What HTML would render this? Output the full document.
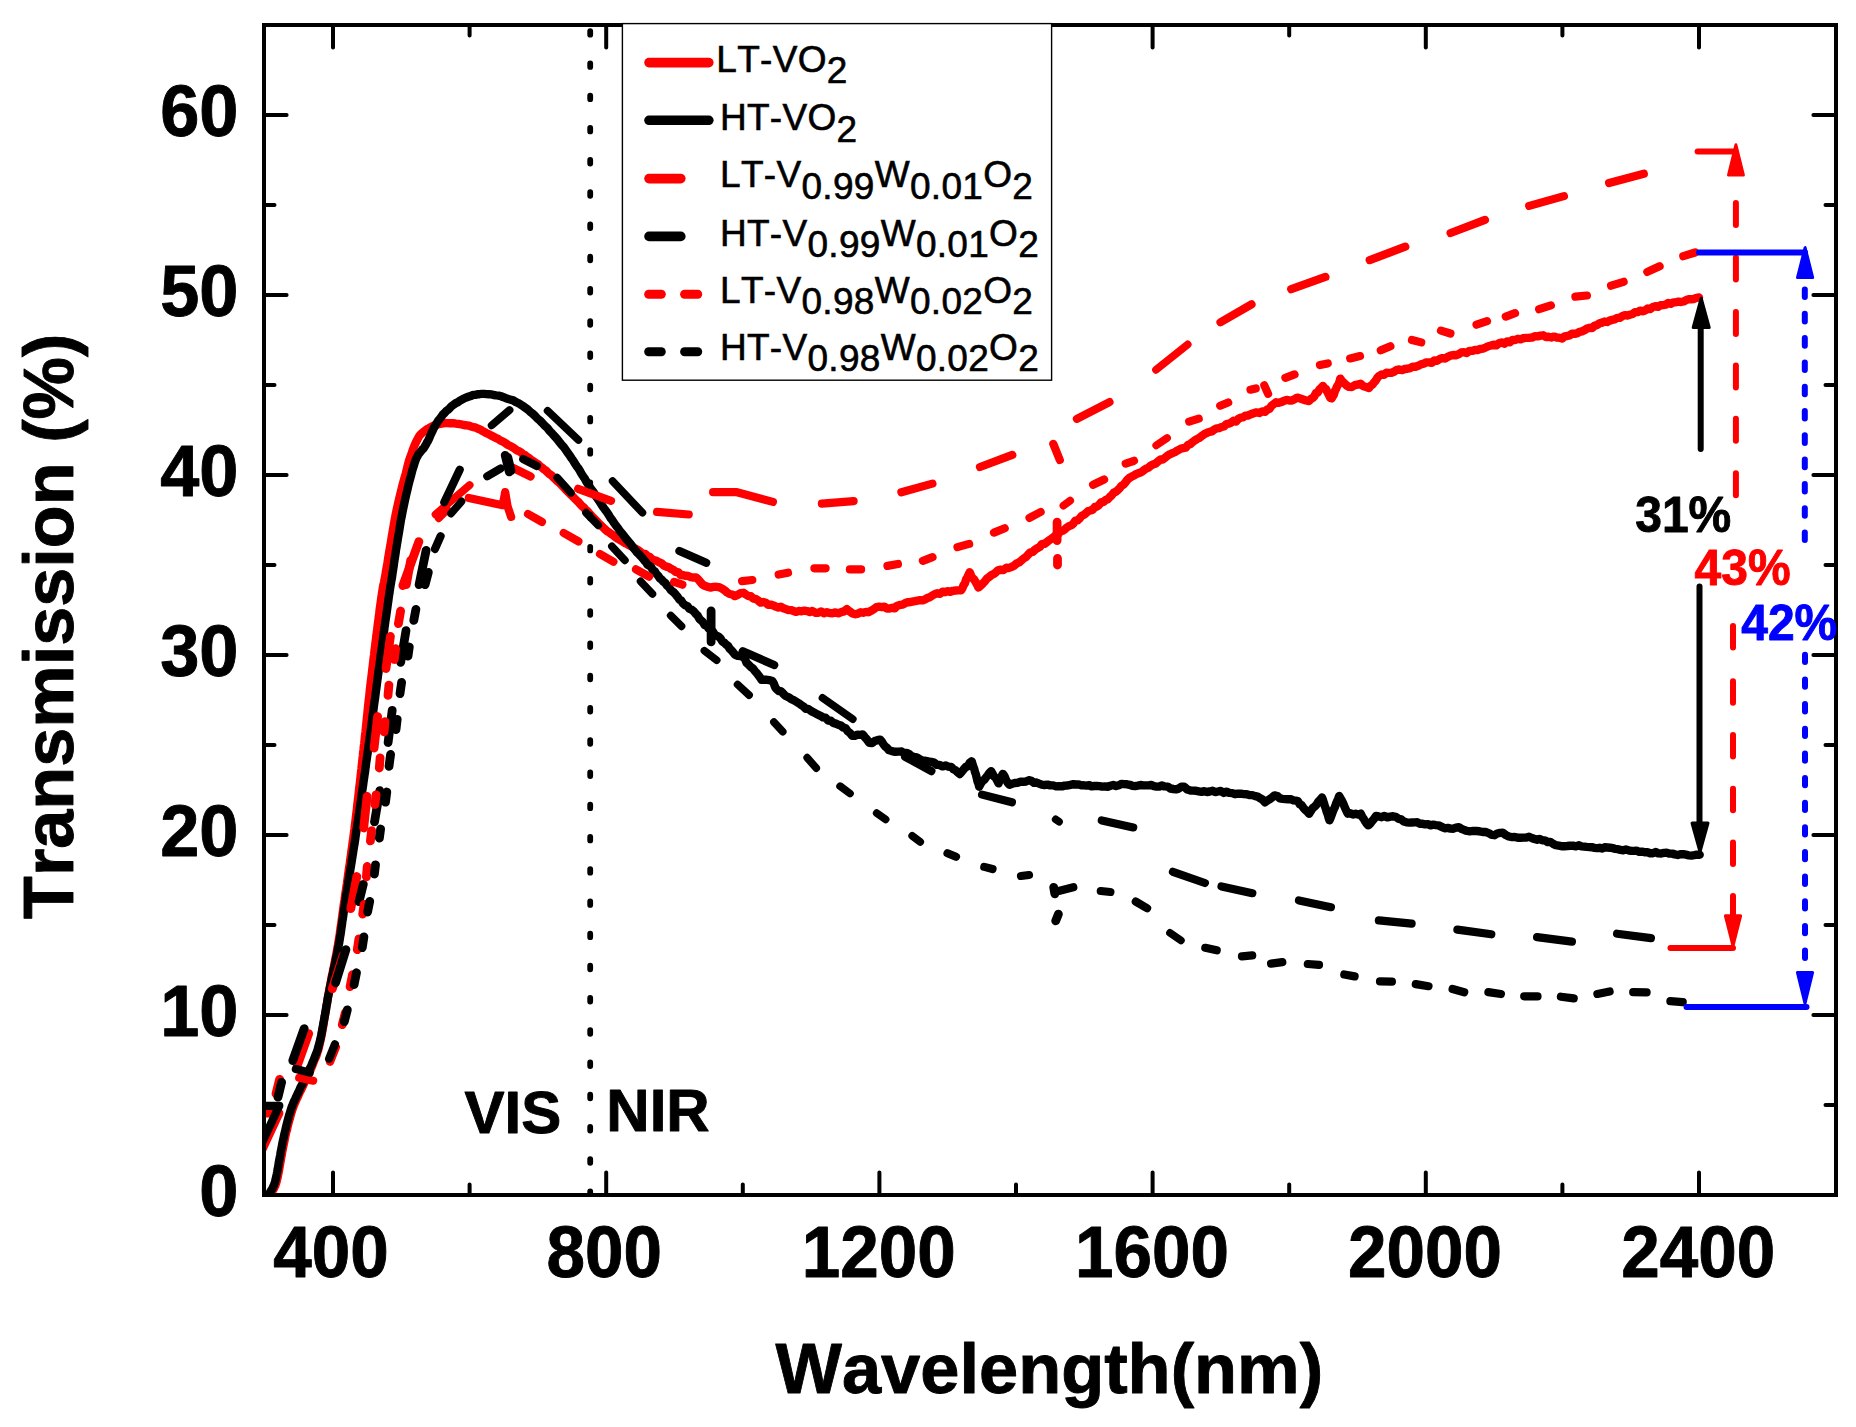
<!DOCTYPE html>
<html lang="en"><head><meta charset="utf-8"><title>Transmission spectra of VO2 and W-doped VO2</title>
<style>html,body{margin:0;padding:0;background:#fff}svg{display:block}text{font-family:"Liberation Sans",Arial,Helvetica,sans-serif;font-kerning:none}.b{font-weight:bold;stroke-width:0.9px;stroke-linejoin:round}</style></head><body>
<svg width="1856" height="1427" viewBox="0 0 1856 1427">
<rect width="1856" height="1427" fill="#fff"/>
<defs><clipPath id="plot"><rect x="264" y="25" width="1572" height="1172"/></clipPath></defs>
<g clip-path="url(#plot)">
<polyline points="267.5,1197.8 267.8,1197.7 268.1,1197.1 268.5,1196.6 269,1196 269.5,1195 270,1194.2 270.5,1194 271,1192.9 271.5,1192.1 272,1191.8 272.5,1190.7 273.1,1190.1 273.6,1189 274.1,1188.2 274.6,1186.9 275.1,1186.1 275.5,1185.1 275.9,1183.7 276.3,1182.6 276.7,1181.3 277,1179.5 277.4,1178.4 277.8,1176.5 278.2,1174.4 278.7,1171.9 279.1,1169.9 279.6,1166.9 280.1,1164.1 280.6,1161.2 281.1,1158.1 281.7,1155.2 282.2,1152 282.7,1149.5 283.3,1146.5 283.8,1144 284.4,1141.1 285,1137.9 285.6,1135.1 286.2,1132.3 286.9,1130 287.6,1126.8 288.3,1124 289.1,1120.9 289.9,1118.2 290.7,1115.2 291.5,1112.4 292.3,1109.9 293.2,1107.4 294,1105.2 294.9,1103.1 295.7,1101.3 296.5,1099.4 297.4,1097.6 298.4,1095.4 299.5,1092.8 300.7,1090.6 302.1,1087.7 303.7,1084.3 305.4,1080.5 307.2,1076.9 309,1072.8 310.7,1069.5 312.2,1065.8 313.6,1062.3 314.7,1059.3 315.7,1057.3 316.6,1055.1 317.4,1052.3 318.1,1050.4 318.9,1047.4 319.7,1043.9 320.6,1039.9 321.6,1035.2 322.1,1032.4 322.7,1029 323.2,1026.2 323.7,1022.7 324.3,1019.7 324.8,1016.2 325.4,1013.1 326,1009.7 326.5,1006 327.1,1002.8 327.6,999.1 328.2,995.7 328.8,992.9 329.3,989.4 329.9,986.6 330.4,983.8 331,981 331.5,977.9 332.1,975 332.7,972.7 333.2,969.6 333.8,967.2 334.3,964.4 334.9,961.3 335.4,958.6 336,955.9 336.5,953.2 337,950.4 337.5,947.6 338,944.9 338.4,942.4 338.9,939.4 339.3,936.8 339.7,934.4 340.4,929 341.2,923.9 341.5,921.7 341.9,918.8 342.3,915.9 342.7,912.8 343.1,909.9 343.5,906.9 344,903.2 344.5,900.1 345,896.3 345.6,892.1 346,889.7 346.4,886.9 346.8,884.3 347.2,881.2 347.6,878.5 348,875.6 348.5,872.1 348.9,869.1 349.3,866.5 349.8,863.5 350.2,860 350.7,857 351.1,853.9 351.5,850.6 352,847.4 352.4,844.2 352.8,841.1 353.3,838 353.7,834.7 354.1,831.6 354.5,828.7 354.9,825 355.3,822.2 355.7,819.1 356.1,815.6 356.5,812.3 356.9,809.4 357.2,805.7 357.6,802.4 358,799.2 358.4,796 358.8,792.4 359.1,789.1 359.5,785.8 359.9,782.8 360.3,779.2 360.6,776.1 361,772.4 361.4,769.2 361.7,766.1 362.1,763 362.4,759.5 362.8,756.2 363.1,752.9 363.5,750 363.8,746.7 364.2,744 364.5,741 364.8,737.6 365.1,734.7 365.5,732 365.8,728.9 366.1,726.1 366.4,722.9 366.7,719.8 367,717 367.3,714.4 367.6,711.2 367.9,708.3 368.2,705.5 368.5,702.5 368.8,699.6 369.2,697 369.5,693.5 369.8,690.4 370.1,688 370.5,684.9 370.8,681.9 371.2,678.5 371.6,675.5 372,672.2 372.4,668.5 372.7,666.2 373,663.6 373.3,660.9 373.6,658.1 374,655.3 374.3,652.6 374.6,649.8 375,647 375.3,644.6 375.6,641.7 376,639.3 376.3,636.1 376.6,634 377,631.2 377.3,628.7 377.6,626.1 378,622.8 378.5,619.4 378.9,615.8 379.3,613.3 379.6,610 380,607.2 380.5,603.8 381,600 381.4,597.1 381.8,594.6 382.5,590.2 383,586.8 383.5,584.3 384,582.5 384.4,580.2 384.9,577.9 385.5,574.4 386.1,570.5 386.8,566.7 387.5,562.7 388.2,558 388.9,554 389.6,549.7 390.4,545.3 391.1,541.1 391.8,536.4 392.5,532.6 393.2,528.5 394,523.8 394.7,519.8 395.5,515.6 396.3,511.5 397.2,507.3 398.2,503 399.2,498.7 400.4,493.7 401.5,489.2 402.6,484.9 403.7,480.7 404.8,476.8 405.7,473.9 406.5,470.8 407.2,467.6 407.8,465.5 408.3,463.3 408.9,461.2 409.5,459.2 410.2,457.3 411,455.1 411.9,452.5 412.8,449.9 413.8,447.4 414.8,444.7 415.8,442.5 417,440.2 418.2,437.9 419.5,435.7 420.9,434.1 422.4,432.7 423.9,431.5 425.5,430.3 427.2,429 428.9,428.2 430.7,427.2 432.4,426.3 434.1,425.5 435.8,424.9 437.5,424.5 439.3,423.8 441.1,423.7 443.1,423.3 445.2,423 447.5,423.1 450.1,423.3 453,423.1 456,423.6 459.2,424 462.4,424.7 465.5,425.3 468.5,425.6 471.2,426.5 473.6,427.2 475.9,427.7 478,428.7 480.1,429.4 482.1,430.8 484.1,431.8 486.2,433 488.4,434.1 490.7,435.2 493.1,436.5 495.6,437.8 498.1,438.9 500.6,440.6 503,441.6 505.5,443.1 507.8,444.9 510.1,445.8 512.3,447.1 514.5,448.5 516.7,450.3 518.9,451.2 521,452.4 523.1,454.3 525.1,455.2 527.1,456.9 529,458.1 530.9,459.6 532.8,460.9 534.6,462 536.5,463.5 538.3,464.5 540.2,466.4 542.1,467.7 543.9,469.3 545.8,470.5 547.6,472.4 549.5,474.1 551.4,475.3 553.3,477.2 555.3,479.1 557.4,481.3 559.6,483.1 561.8,485.3 564,487.6 566.3,490.1 568.5,492.4 570.5,494.4 572.5,496.3 574.3,498.1 575.8,499.6 577.3,501.1 578.7,502.3 580.1,504 581.7,505.9 583.4,507.2 585.4,509.4 587.7,511.4 590.2,514.4 593,517.3 595.8,520.2 598.7,523.1 601.6,525.9 604.3,528.6 607,531.1 609.7,532.8 612.5,534.8 615.3,537.1 618,538.9 620.6,540.3 623,541.7 624.9,543 626.4,543.6 628.8,545 631.1,546.2 633.5,547.8 635.9,548.9 638.3,550.2 640.6,552.1 643,553.9 645.3,554 647.6,556.3 650,557.1 652.3,559.4 654.6,560.3 657,561.1 659.3,562.4 661.6,563.4 664,565.6 666.4,566.6 668.8,567.3 671.2,568.9 673.5,570 675.9,572.1 678.3,572.1 680.7,575 683.1,575.2 685.7,575.8 688.3,576 690.8,577.1 693.4,577.5 696,577.4 698.2,579.4 700.4,582 702.5,584.5 704.7,585.7 707.6,586.7 710.4,587.6 713.3,586.9 716.2,586.8 719,587.2 721.9,588.5 724.5,590.2 727.1,592.5 729.6,594 732.2,594.5 734.8,596.1 737.7,594.8 740.5,593.2 743.4,592.8 745.9,594.5 748.3,596 750.8,596.1 753.3,598.7 755.8,599 758.2,600.6 760.7,602.6 763.2,602 765.7,602.7 768.2,604.9 770.8,604.6 773.3,605.4 775.8,606.6 778.3,607.5 780.8,606.8 783.4,608.2 785.9,609.1 788.4,610 790.9,610.1 793.6,611 796.3,611.9 799,610.9 801.6,611.3 804.3,610.6 807,611.1 809.7,612 812.4,611 815.3,612.7 818.2,612.9 821,611.4 823.9,613.2 826.8,612.2 829.7,613.1 832.5,613.2 835.4,612.4 838.3,613.3 841.2,612.1 844,611.4 846.9,609.2 849.8,611.6 852.6,613.5 855.5,614.3 858.1,613.6 860.7,612.3 863.2,612.7 865.8,611.9 868.4,612.2 871.1,610.8 873.8,609.2 876.5,607.1 879.2,606.7 881.8,607.1 884.4,606.6 887,608.5 889.6,608.5 892.2,607.8 894.7,608.4 897.2,605.7 899.7,605 902.2,604.7 904.7,603.4 907.2,602.2 909.8,602.2 912.4,601.6 915,601.1 917.6,600.6 920.2,600.1 922.7,600.4 925.1,599.4 927.6,597.9 930,597.2 932.5,595.4 934.9,594.1 937.4,593.3 940,593.8 942.6,591.7 945.1,592.2 947.7,591.2 950.3,591.8 953,590.8 955.7,590.5 958.4,590.4 961.1,590.4 962.3,588.4 963.6,585.1 964.8,583.6 966,579.6 967.2,577.5 968.5,574.7 969.7,572.2 971.2,575.9 972.6,578.1 974,579.4 975.5,581.7 977,584.5 978.4,587.5 980.5,585.7 982.7,583.6 984.8,581.4 987,578.5 989.1,577.1 991.3,575.1 993.5,574.2 995.6,572.6 997.8,570.3 1000.7,569.7 1003.5,570 1006.4,567.8 1009,568 1011.6,566.9 1014.1,565.7 1016.7,563.3 1019.3,562.3 1021.5,560.4 1023.6,558.5 1025.8,557.2 1028,554.7 1030.4,552.3 1032.7,551.9 1035.1,549.6 1037.4,548.2 1039.8,546.9 1042.1,543.9 1044.5,543.9 1046.8,542.1 1049.2,540.2 1051.5,538.7 1053.9,537 1056.1,534.9 1058.2,534 1060.4,531.4 1062.5,530.8 1064.7,529.5 1066.8,527.5 1069,526.2 1071.1,525.4 1073.3,523.7 1075.4,520.6 1077.6,520.3 1079.7,518.4 1081.9,515.7 1084,514.7 1086.2,512.9 1088.4,511 1090.5,510.5 1092.7,509.7 1094.8,507 1097,506.6 1099.2,504.7 1101.3,502.1 1103.5,502 1105.6,500 1107.8,499.2 1109.8,497 1111.7,495.3 1113.7,492.7 1115.6,491.9 1117.6,490.3 1119.5,488.4 1121.5,485.8 1123.4,484.7 1125.4,482.4 1127.3,479.9 1129.3,478 1131.7,476.6 1134.1,475.4 1136.5,473.9 1138.9,473.1 1141.3,472.1 1143.7,470.3 1146.1,468.6 1148.5,467.6 1150.9,465.5 1153.3,464.4 1155.7,463.5 1158.1,461.4 1160.5,459.5 1162.8,459.5 1165.2,457.7 1167.6,455.6 1170,454.2 1172.4,453.1 1175.1,452.1 1177.8,450.3 1180.5,448.8 1183.2,448.1 1185.6,447.7 1188,444.9 1190.4,444 1192.8,441.9 1195.1,440.3 1197.5,438.7 1199.9,437.6 1202.3,435.6 1204.7,433.8 1207.1,432.8 1209.5,431.9 1211.9,431.4 1214.3,429.5 1216.7,428.4 1219.1,428.1 1221.5,427 1223.9,426.5 1226.3,424.1 1228.7,423.7 1231.1,422.6 1233.5,420.8 1235.9,421.6 1238.2,419 1240.6,417.7 1243,417.4 1245.4,415.7 1247.8,415.5 1250.7,414.3 1253.6,413.2 1256.4,412.4 1259.3,413 1262.2,411.4 1265.1,411.8 1267.3,409.5 1269.5,408.7 1271.6,405.8 1273.8,404 1276,402.3 1278.7,402.9 1281.3,402 1284,400.9 1286.6,399.9 1289.2,400.5 1291.9,400.6 1294.5,399.3 1297.2,397.6 1300.2,398.5 1303.1,399.5 1306,400.5 1309,401.1 1310.8,399 1312.5,398.1 1314.2,396.5 1316,393 1317.8,392.4 1319.5,389.4 1321.2,387.9 1323,386 1324.5,388.4 1325.9,388.9 1327.3,391.8 1328.8,394.7 1330.2,397.8 1331.7,398.4 1332.8,396.3 1333.8,394.9 1334.9,391 1336,389 1337.1,386.4 1338.2,384.6 1339.2,382.6 1340.3,378.6 1342.5,381.7 1344.6,383.5 1346.8,385.6 1348.9,386.9 1351.8,387 1354.7,385.2 1357.6,384.7 1360.5,383.7 1363.3,386.2 1366.2,387 1369,388 1370.7,385.8 1372.3,384.8 1374,382.5 1375.7,380.6 1377.3,377.9 1379,376 1381.5,374.5 1384,374.9 1386.5,372.7 1389,372.9 1391.5,372.7 1394,371.8 1396.7,369.9 1399.4,369.5 1402.1,370.1 1404.8,369 1407.4,368.8 1410.1,368.1 1412.8,366.6 1415.5,366.8 1418.2,365.8 1420.9,364.3 1423.6,363.7 1426.3,362.4 1429,362.4 1431.7,362.9 1434.4,360.5 1437.1,360.7 1439.8,359 1442.5,358.1 1445.2,358.5 1447.8,356.8 1450.5,355.6 1453.2,355 1455.9,355.2 1458.6,354.3 1461.3,352.5 1464,352.2 1466.7,353 1469.4,350.9 1472.1,350.9 1474.8,350 1477.5,350 1480.2,349 1482.9,348.7 1485.6,347.5 1488.3,346.2 1491,345.5 1493.6,344.6 1496.3,345.4 1499,343.3 1501.7,342.4 1504.4,343.7 1507.1,341.4 1509.8,342.2 1512.5,339.9 1515.2,340 1517.9,338.8 1520.6,339.3 1523.3,338.2 1526.2,337.9 1529,337.8 1531.9,337.6 1534.8,336.2 1537.6,336.4 1540.5,335.7 1543.2,335.3 1545.9,337 1548.6,336.8 1551.3,337.5 1554,336.6 1556.7,337.5 1559.4,337.7 1562.1,338.5 1564.6,336.3 1567.1,336 1569.6,335.4 1572,333.7 1574.5,333.8 1577,333.3 1579.5,331.8 1582,331.3 1584.5,330.2 1587,328.5 1589.5,327.8 1592,328.1 1594.5,325.8 1597.1,325 1599.6,323.3 1602.1,322.6 1604.6,321.5 1607.1,322 1609.6,320.6 1612.1,319.9 1614.6,319.4 1617.2,317.9 1619.7,317.8 1622.3,316.2 1624.8,315.2 1627.4,315.5 1629.9,314.7 1632.5,314 1635,312.3 1637.6,312.1 1640.1,310.6 1642.7,311.2 1645.2,310.4 1647.8,308.5 1650.3,309.1 1652.9,307 1655.4,306.2 1658,306.8 1660.5,305.3 1663.1,305.1 1665.6,304.7 1668.2,302.9 1670.8,303.8 1673.3,302.4 1675.9,302.3 1678.5,301.6 1681,302 1683.6,301.5 1686.2,300.1 1688.7,299.3 1691.3,299.2 1693.9,299 1696.4,297.8 1699,297.5" fill="none" stroke="#ff0000" stroke-width="8.4" stroke-linejoin="round" stroke-linecap="round"/>
<polyline points="266,1198.1 266.3,1197.8 266.6,1197.3 267,1196.8 267.5,1196.1 268,1195.5 268.5,1194.2 269,1193.7 269.5,1193.3 270,1192.3 270.5,1191.7 271,1190.5 271.6,1189.9 272.1,1188.9 272.6,1188.1 273.1,1187.1 273.6,1185.7 274,1184.7 274.4,1183.6 274.8,1182.7 275.2,1181.4 275.5,1179.6 275.9,1178.4 276.3,1176.3 276.7,1174.6 277.2,1172 277.6,1169.4 278.1,1167.1 278.6,1163.8 279.1,1160.8 279.6,1158.2 280.2,1155.2 280.7,1152 281.2,1149.6 281.8,1146.5 282.3,1143.8 282.9,1140.7 283.5,1138.4 284.1,1135.4 284.7,1132.8 285.4,1129.9 286.1,1126.7 286.8,1123.9 287.6,1120.9 288.4,1117.9 289.2,1115 290,1112.4 290.8,1109.9 291.7,1107 292.5,1105.1 293.4,1102.9 294.2,1100.9 295,1099.4 295.9,1097.3 296.9,1095.2 298,1093 299.2,1090.5 300.6,1087.1 302.3,1084.3 304.1,1080.2 305.9,1076.9 307.7,1073.2 309.5,1069 311.2,1065.9 312.6,1062.3 313.8,1059.6 314.8,1056.8 315.8,1054.5 316.6,1052.4 317.4,1050.5 318.2,1047.2 319.1,1044.3 320.1,1040.3 321.2,1035.3 321.8,1032 322.3,1029.2 322.9,1026.1 323.5,1023.1 324.1,1019.4 324.7,1016.4 325.3,1013 325.9,1009.6 326.5,1005.7 327.1,1002.8 327.7,999 328.3,995.8 328.9,992.9 329.5,990 330.1,986.7 330.7,984.1 331.3,981 331.9,978 332.5,975.2 333.1,972.3 333.7,969.4 334.3,966.7 334.9,964.3 335.5,961.7 336.1,958.4 336.7,955.6 337.2,953.4 337.8,950.4 338.3,947.5 338.8,944.6 339.3,942.1 339.7,939.6 340.1,936.8 340.6,934.2 341.3,928.9 342,924.3 342.4,921.1 342.8,918.7 343.2,916.1 343.6,912.9 344,910.1 344.5,907.1 345,903.5 345.5,900.2 346.1,896 346.7,892.3 347.1,889.4 347.6,887.1 348,884 348.5,881.2 348.9,878.7 349.4,875.7 349.9,872.7 350.4,869.4 350.9,866.3 351.4,863.4 351.9,860.1 352.4,856.9 352.9,853.8 353.4,850.4 353.9,847.4 354.4,844.6 354.9,841.4 355.4,838 355.8,834.8 356.3,831.6 356.8,828.3 357.3,825.2 357.7,822.3 358.2,819.2 358.7,815.6 359.2,812.6 359.6,809.4 360.1,806 360.6,802.7 361.1,799.4 361.6,795.8 362,792.7 362.5,789.1 363,785.9 363.4,782.7 363.9,779.3 364.4,775.8 364.9,772.9 365.3,769.4 365.8,766.1 366.2,762.5 366.7,759.6 367.1,756.2 367.6,753.3 368,750 368.4,747.1 368.8,743.9 369.3,741 369.7,737.7 370.1,734.9 370.5,731.9 370.9,729.1 371.3,725.8 371.7,723.2 372.1,720.3 372.4,717.3 372.8,714.5 373.2,711.6 373.6,708.4 374,705.5 374.4,702.4 374.8,699.8 375.2,697 375.6,693.7 376,690.8 376.4,687.9 376.8,684.8 377.2,681.4 377.6,678.7 378,675.3 378.5,672 378.9,668.6 379.3,666.1 379.7,663.6 380,660.8 380.4,658.3 380.7,655.1 381.1,652.5 381.5,649.9 381.9,647.3 382.2,644.4 382.6,641.9 383,639.2 383.4,636.1 383.7,633.7 384.1,631 384.4,628.2 384.8,625.6 385.2,622.5 385.7,619.1 386.2,615.9 386.6,612.9 387,610.2 387.4,607.3 387.9,603.7 388.4,600.1 388.8,597 389.2,594.6 389.9,589.8 390.3,586.9 390.8,584.3 391.1,582.3 391.5,580 391.9,577.9 392.4,574.4 393,570.4 393.6,566.7 394.2,562.3 394.8,558.2 395.5,553.8 396.1,549.5 396.8,545.4 397.5,541.1 398.2,536.7 398.9,532.7 399.6,528.4 400.3,524 401,519.7 401.8,515.8 402.6,511.5 403.4,507.6 404.3,503.3 405.3,498.6 406.4,493.9 407.4,489.7 408.5,484.8 409.6,480.7 410.6,477.1 411.5,473.7 412.3,470.4 413.1,468 413.8,465.8 414.5,463.3 415.2,461.4 415.9,459.4 416.6,457.7 417.5,456.3 418.4,454.3 419.4,453.3 420.4,452 421.4,450.7 422.5,449.3 423.6,448.4 424.7,446.6 425.9,444.6 427.1,442.3 428.4,440.2 429.7,437.1 431,434 432.4,431.2 433.8,428.1 435.2,425.6 436.7,423.1 438.2,420.7 439.7,418.9 441.2,417 442.8,414.6 444.4,413.1 446.1,411.2 447.9,409.9 449.7,408.2 451.6,406.2 453.7,404.7 455.8,403.1 458,402.1 460.3,400.4 462.5,399.3 464.7,398.1 466.9,397.3 469,396.5 471.1,395.9 473.3,394.9 475.4,394.9 477.5,394.3 479.6,394.2 481.8,393.9 484.1,393.9 486.4,394.1 488.8,394.2 491.2,394.4 493.7,395 496.1,395.4 498.6,395.6 501.1,396.3 503.5,397.2 505.9,398.2 508.4,399 510.8,399.7 513.2,400.4 515.6,401.9 518,403 520.5,404.4 522.9,406 525.3,407.7 527.8,409.5 530.2,411.8 532.6,413.6 535,415.9 537.4,418.5 539.9,420.5 542.3,423 544.8,425.8 547.3,427.9 549.8,431.1 552.3,433.7 554.7,436.4 557.2,439.1 559.5,442.1 561.7,444.9 563.8,447.2 565.9,450.2 567.9,453 569.8,455.7 571.6,458.4 573.4,460.9 575.1,463.8 576.8,466.4 578.3,468.2 579.7,470.4 580.9,472.8 582.1,474.7 583.3,476.6 584.6,478.3 586,481 587.6,483.7 589.5,486.5 591.5,489.5 593.7,492.4 595.9,496.3 598.2,499.4 600.5,503 602.7,506.5 604.8,509.4 606.8,512 608.7,514.9 610.5,518 612.3,520.2 614.2,523.1 616,525.6 617.9,528 619.9,531 622.1,533.5 624.5,536.6 627,539.8 629.5,542.7 631.9,545.7 634,548.6 635.9,550.9 637.2,552.6 638.9,554.1 640.7,556.1 642.4,557.9 644.2,560.3 645.9,562.1 647.7,564.8 649.4,565.7 651.1,567.1 652.9,570.2 654.6,571.1 656.4,573.9 658.1,575.6 659.9,578.3 661.6,579.6 663.4,581.7 665.2,583 667,585.5 668.8,587 670.6,589.8 672.4,591.4 674.1,592.7 675.9,594.8 677.7,597 679.5,599.7 681.3,600.6 683.1,603.6 685.2,605.3 687.4,606.1 689.5,608.9 691.7,609.7 693.9,611.5 696,614.2 697.7,615.7 699.5,619 701.2,620.4 703,622.2 704.7,625.2 706.7,625.6 708.6,628.6 710.6,629.2 712.5,631.1 714.5,634.3 716.4,635.6 718.4,636.5 720.3,638.1 722.3,641.4 724.2,642.6 726.2,644.7 727.9,645.6 729.6,648.6 731.4,650.3 733.1,652.3 734.8,654.6 737.7,655.8 740.5,656.1 743.4,656.9 745,659 746.5,662.8 748.6,664.6 750.8,667 753,668.5 755.1,671.4 756.7,673 758.4,675.3 760,677.4 761.6,679.8 764.3,679.8 767,679.8 769.6,680.2 772.3,681.1 773.7,683.3 775.2,687.3 776.6,689.1 778.8,691 780.9,691.2 783.1,693.5 785.2,695.7 787.4,696.7 789.6,697.8 791.7,699.4 793.9,700.2 796.3,701.7 798.7,703.2 801.1,705 803.5,706.5 805.8,708.8 808.2,708.9 810.6,710.6 813,712.1 815.4,713.3 817.9,714.7 820.5,715.8 823,717.4 825.6,717.7 828.1,720.5 830.7,720.7 833.2,722.9 835.8,723.6 838.3,724.8 840.9,725.6 843.4,727.6 845.6,728.3 847.8,731.4 849.9,732.9 852.1,735.7 854.8,735.8 857.5,734.8 860.1,734.9 862.8,734.5 865,737.4 867.1,739.7 869.3,742.8 872,743 874.7,741.1 877.4,740.2 880.1,739.6 881.8,741.5 883.5,744.4 885.3,746.6 887,747.7 888.7,750 891.9,751.1 895.2,751.8 898.4,751.6 901.6,751.5 904.1,753.5 906.6,752.9 909.2,754.1 911.7,756.4 914.2,756.9 916.7,757.3 919.6,759.1 922.5,760.7 925.4,760.8 928.2,761.4 931.1,761.8 934,762.6 936.9,764.9 939.7,764.9 942.6,766.4 945.5,765.5 948.3,766.6 951.2,767 953.4,769.2 955.5,770.2 957.6,772.2 959.8,774 961.8,771.7 963.8,769.1 965.8,766.9 967.7,766.4 969.7,762.9 971.7,761.3 972.5,763.9 973.4,766.9 974.2,768.8 975,772 975.9,774.4 976.7,777.9 977.5,781.3 978.4,783.5 979.2,786.7 980.9,783.4 982.6,780.9 984.3,779.7 986,777.4 987.7,775.4 989.4,772.9 991.1,771.2 992.6,773.8 994.1,776.5 995.6,777.7 997.1,780.3 998.6,783.4 1000,779.4 1001.5,776.4 1002.9,773.9 1004.5,776.2 1006.1,780.1 1007.8,782.9 1009.4,784.7 1012.2,783.7 1014.9,783 1017.7,782.7 1020.5,781.8 1023.3,781.8 1026,781.5 1028.8,780.2 1031.4,780.8 1034,782.8 1036.5,782.5 1039.1,783.6 1041.7,784.6 1044.6,785 1047.5,784.6 1050.3,785.4 1053.2,785.4 1056.1,786.4 1059,786.2 1061.9,786.4 1064.7,785.6 1067.6,785.5 1070.5,784.8 1073.3,784.2 1076.2,784.5 1078.8,784.5 1081.4,785.4 1084,785.3 1086.6,785.6 1089.2,785.1 1091.7,786.4 1094.3,786 1096.9,785.9 1099.5,786.1 1102.1,786.6 1104.9,786.4 1107.7,786.8 1110.5,785.8 1113.2,785 1116,786 1118.8,785.2 1121.6,783.9 1124.3,784.1 1127,784.3 1129.7,784.8 1132.4,785.8 1135.1,786.1 1137.8,785.6 1140.5,785 1143.2,785.4 1145.8,785.4 1148.5,785.4 1151.2,785 1153.9,786.1 1156.6,786.6 1159.3,786.5 1162,785.5 1164.7,786.4 1167.6,786.6 1170.4,788.5 1173.3,789 1176,789.4 1178.7,788.6 1181.4,786.8 1184.1,786.7 1187.3,789.5 1190.5,790.5 1193.2,790.6 1196,790.7 1198.7,791.4 1201.5,791.8 1204.2,791.2 1207,792 1209.7,791.5 1212.5,790.7 1215.2,792.1 1218,791.5 1220.7,790.9 1223.6,792.9 1226.4,791.6 1229.3,792.9 1232.2,793.1 1235,794.2 1237.9,793.7 1240.8,793.7 1243.7,794.1 1246.6,794.2 1249.4,795.1 1252.3,795.1 1255.2,796.1 1257.6,796.6 1260.1,798.2 1262.5,799.5 1264.9,802.3 1267.3,800.6 1269.8,799.1 1272.2,797.3 1274.6,795.4 1277.3,796 1279.9,798.3 1282.6,798.8 1285.3,799.1 1288,799.3 1290.7,799.2 1293.4,800.3 1296.1,800.6 1298,801.3 1299.8,804.3 1301.7,805.3 1303.5,807.9 1305.4,810.1 1307.2,811.6 1309.1,813.8 1310.9,810.9 1312.8,808 1314.6,806.7 1316.5,804.6 1318.3,801.7 1320.2,799.8 1322,797.5 1322.9,799.7 1323.9,802.9 1324.8,805.8 1325.8,808.7 1326.7,811.9 1327.6,814 1328.6,817.8 1329.5,820.3 1330.6,817.8 1331.7,814.8 1332.7,812.1 1333.8,809.2 1334.9,807.1 1336,803.7 1337,801.4 1338.1,799 1339.2,796 1340.4,798.1 1341.7,800.2 1342.9,802.7 1344.1,805.6 1345.3,808.5 1346.6,811.3 1347.8,813.7 1350.4,813.2 1353,814.5 1355.6,813.6 1358.2,814.6 1360.8,813.6 1362.3,817 1363.8,819 1365.3,821.6 1366.8,823.7 1368.3,825.4 1370.2,823.6 1372.1,821.2 1374,818.8 1375.9,816 1378.8,816.5 1381.6,817.2 1384.5,816 1387.4,817.4 1390.2,816.6 1393.1,816.3 1395.8,816.8 1398.4,818.7 1401.1,819.4 1403.8,821.5 1406.5,822.3 1409.2,822.6 1411.8,822.5 1414.5,822.4 1417.2,822.3 1419.9,823.7 1422.5,823.8 1425.2,824.4 1427.9,824.2 1430.6,825.4 1433.2,824.6 1435.9,825.1 1438.6,825.4 1441.7,826.9 1444.7,828.3 1447.8,827.9 1450.5,828.6 1453.3,828.7 1456,827.6 1458.8,827.2 1461.5,828.8 1464.3,830 1467,830.9 1469.8,831.3 1473,830.9 1476.2,831 1479.4,831.3 1482.6,832 1485.6,832 1488.7,833.1 1491.7,834.8 1494.5,835.2 1497.2,833.5 1500,832.9 1502.7,832.8 1505.8,835 1508.8,836.5 1511.9,837.1 1514.8,837 1517.7,837.7 1520.7,837.7 1523.6,837.6 1526.5,837.6 1529.1,836.8 1531.8,838 1534.4,839 1537,839.7 1539.6,838.9 1542.3,840.3 1544.9,840.4 1547.7,842 1550.4,841.9 1553.2,843.9 1555.9,845.2 1558.7,845.7 1561.4,846.2 1564.3,846.2 1567.1,846 1570,845.7 1572.9,845.7 1575.8,846.4 1578.6,845.3 1581.5,846.4 1584.1,846.6 1586.7,846.9 1589.3,847.1 1591.9,847.2 1594.5,847.8 1597,848.1 1599.6,847.8 1602.2,848.6 1604.8,847.3 1607.4,847.5 1610,847.7 1612.6,848.2 1615.3,848.8 1617.9,849.2 1620.6,849.9 1623.2,850.3 1625.9,849.5 1628.5,850.3 1631.2,850.9 1633.8,850.9 1636.5,850.7 1639.2,851.8 1642,851.6 1644.7,852.3 1647.5,852.2 1650.2,853.2 1652.9,853.3 1655.7,852 1658.4,853.4 1661.2,853.5 1663.9,852.9 1666.7,852.8 1669.4,853.6 1672.2,853.6 1674.9,854.4 1677.7,855 1680.4,854.2 1683.2,854.2 1685.9,854.7 1688.7,855.3 1691.4,855.6 1694.2,855.2 1696.9,854.7 1699.7,854.8" fill="none" stroke="#000000" stroke-width="8.4" stroke-linejoin="round" stroke-linecap="round"/>
<path d="M258 1113.3 L279.3 1113.3 L260 1154.5" fill="none" stroke="#ff0000" stroke-width="8.2" stroke-linecap="round" stroke-linejoin="round"/>
<path d="M297.3 1065.6 L308.7 1033.6 M332.3 988.8 L343.2 955.2 M350.8 908.7 L356.8 876.5 M363.7 828 L367.1 796.4 M374.1 748.1 L377.6 716.5 M386 668.5 L390.4 636.4 M402.9 585.6 L418.9 541.6" fill="none" stroke="#ff0000" stroke-width="8.8" stroke-linecap="round" stroke-linejoin="round"/>
<path d="M299.2 1077.8 L313.1 1080.7 M512.7 467.8 L530.6 476.5 M578.1 488.8 L611 500.8 M657 511.9 L688.7 514.5 M713.1 492.2 L737 492.2 L772.9 501.9 M821.9 503.7 L853.6 501.1 M901.4 492.2 L932.4 483.6 M980 467 L1012.3 454.9 M1053.3 443.9 L1059.8 460 M1076.9 418.8 L1109.5 402.1 M1220.5 322.3 L1251.5 304.4 M1291.2 289.2 L1325.4 276.9 M1369.7 260.1 L1405.3 246.7 M1450.6 233 L1485 219.9 M1529.2 205.9 L1563.9 196.1 M1609.1 183 L1643.8 173.7" fill="none" stroke="#ff0000" stroke-width="8.2" stroke-linecap="round" stroke-linejoin="round"/>
<path d="M435.5 514.4 L469.7 485 M1156 369.8 L1187.7 344.4" fill="none" stroke="#ff0000" stroke-width="7.7" stroke-linecap="round" stroke-linejoin="round"/>
<path d="M258 1105.8 L279.3 1105.8 L260 1147" fill="none" stroke="#000000" stroke-width="8.2" stroke-linecap="round" stroke-linejoin="round"/>
<path d="M292.8 1060.6 L304.2 1028.6 M335.6 982.8 L345.9 949.6 M359 901.7 L363.3 884.3 M374.5 821.9 L379.8 790.7 M388.1 742.5 L392.2 710.3 M400.7 662.4 L406 630.6 M419.1 584.7 L426.1 550.3 M711.1 610.8 L711.1 641.9" fill="none" stroke="#000000" stroke-width="8.8" stroke-linecap="round" stroke-linejoin="round"/>
<path d="M295.9 1069 L309.7 1072.6 M444.3 502.3 L459.7 469.7 M679.4 550.9 L706.2 562.8 M742.8 651.2 L774.2 665.1 M905.2 756.8 L931.4 771.1 M982.1 794.6 L1011.9 802.3 M1101.8 820.4 L1133.2 827.4 M1172.9 871.8 L1204.9 883 M1221.5 886.4 L1252.3 893.2 M1299 900.4 L1330.9 907.2 M1378.9 920.4 L1411.6 923.6 M1457.4 929.6 L1491.3 934.3 M1537.1 937.1 L1571.9 941.6 M1617.1 933.7 L1650.9 938.1" fill="none" stroke="#000000" stroke-width="8.2" stroke-linecap="round" stroke-linejoin="round"/>
<path d="M491.6 425.4 L509.6 410 M547.6 410.8 L578.4 440 M612.6 481.1 L642.4 512.7 M822.5 697.9 L852.8 719.1 M1055.7 819.4 L1059 821.7" fill="none" stroke="#000000" stroke-width="7.7" stroke-linecap="round" stroke-linejoin="round"/>
<path d="M276 1093.7 L279.6 1079.3 M342.3 1024.7 L345.3 1012.8 M350.1 986.7 L352.5 974.7 M357.3 949.6 L358.9 938.9 M362.7 914.1 L364.1 904.4 M366.4 876.8 L367.2 866.5 M370.4 840.9 L371.6 830.6 M374.9 804.5 L376.1 794.8 M379.3 768 L380.1 757.8 M384.1 731.8 L385 721.6 M388 695.4 L388.9 685.1 M394.3 659.5 L395.6 648.7 M398.4 623.7 L400.6 611 M406.3 584.7 L410.7 560.3 M1057.1 522.1 L1057.1 540.6 M1057.5 558.4 L1057.5 565" fill="none" stroke="#ff0000" stroke-width="8.8" stroke-linecap="round" stroke-linejoin="round"/>
<path d="M330.1 1061.7 L335.9 1047.3 M528 514 L541.9 521.9 M563.7 533 L578.4 541.4 M600 554 L613.4 561.7 M636 569.3 L649.1 576.6 M674.1 581.9 L682.4 584.7 M742.1 581.1 L752.3 580 M778.7 574.5 L788 572.7 M814.4 568.3 L825.6 568.3 M849.9 569.4 L861.1 569.4 M887.5 565.9 L897.9 564 M922.9 560.8 L932.5 557.2 M957.5 547.1 L969.1 543.9 M994 532.6 L1004.7 528.3 M1029.5 517.9 L1040.6 512 M1093.1 484.7 L1104.1 479.5 M1125.7 463.6 L1134 460.8 M1189.2 421.6 L1198.7 418.7 M1220.2 405.7 L1228.2 402.5 M1250.5 389.7 L1255.7 388.5 M1264.3 385.3 L1268.1 393.8 M1285.4 377.8 L1294.5 374.4 M1320 365 L1327.7 363.4 M1350.2 358.4 L1360 356.1 M1380.8 350.3 L1390.4 346.3 M1412 340 L1421.2 342.4 M1441 330.6 L1450.4 333.5 M1476.5 324.7 L1487 321.1 M1505.8 316.6 L1515 313.2 M1539.1 309.2 L1550.9 305.4 M1575.4 296.7 L1586.9 295.5 M1611.1 285.7 L1623.6 281.8 M1647.3 271.9 L1659.6 266.2 M1683.3 256.2 L1695.1 252.5" fill="none" stroke="#ff0000" stroke-width="8.2" stroke-linecap="round" stroke-linejoin="round"/>
<path d="M438.7 518.3 L447.3 509.7 M1063.4 505.7 L1070.2 500.6 M1156.2 445.4 L1167.1 438" fill="none" stroke="#ff0000" stroke-width="7.7" stroke-linecap="round" stroke-linejoin="round"/>
<path d="M468.8 498 L502.7 505.2 L505.2 492.1 L507.6 506.4 L511.1 516.9" fill="none" stroke="#ff0000" stroke-width="8.2" stroke-linecap="round" stroke-linejoin="round"/>
<path d="M278 1097.2 L281.6 1082.3 M344.3 1021.7 L347.3 1009.8 M354.1 984.7 L356.5 972.7 M362.3 947.6 L363.9 936.9 M367.6 912 L369.7 901.3 M374.4 874 L375.5 864.8 M379.4 838.1 L380.6 829 M385.5 802.2 L386.8 792 M389 766.3 L390.6 754.4 M396 729.6 L397.2 719.3 M400 693.7 L401.6 682.3 M408 656.1 L409.3 647 M413.8 620.4 L415.9 609.3 M425.1 584.7 L428.3 572.3 M505.2 455.3 L509.3 471.9 M507.8 457.3 L511 470.7 M1053.7 887.3 L1054.8 893.9 M1058.4 914.1 L1055.7 920.8" fill="none" stroke="#000000" stroke-width="8.8" stroke-linecap="round" stroke-linejoin="round"/>
<path d="M329.1 1058.7 L334.9 1044.3 M435 548.9 L440.6 536.2 M487.3 476.2 L500.6 468.5 M523.2 459.1 L536.9 466 M947.5 853.3 L956 856.8 M984.3 866.9 L992.5 869 M1021 876 L1029 875 M1059.7 890.7 L1073.3 887.3 M1100.8 891 L1110.4 892 M1135.8 901.6 L1147.1 908.2 M1205.3 947.8 L1216.7 950.3 M1242 956.3 L1252.2 955.4 M1271.1 963.6 L1282.3 962.1 M1307.8 964 L1319 964.9 M1344.3 974.5 L1354.6 976.4 M1380 981.4 L1391.9 981.6 M1415.8 984.1 L1428.5 986.2 M1452.6 989 L1464.2 992.2 M1488.4 992.1 L1500.9 994 M1524.2 996.3 L1537.5 996.4 M1560.9 996.7 L1573.7 998.4 M1597.4 993.9 L1609.6 991.5 M1633.2 992.2 L1646.6 992.4 M1670.4 1001.1 L1682.7 1002.2" fill="none" stroke="#000000" stroke-width="8.2" stroke-linecap="round" stroke-linejoin="round"/>
<path d="M451 513.6 L461.5 501.4 M557.2 477.7 L570.9 492.9 M586 512.7 L598.2 525.3 M611.9 546.3 L624.9 560.3 M640.6 581.4 L652.4 593.9 M670.7 615.6 L681.5 626.3 M704.4 650.7 L716.7 660.2 M737.6 684.5 L749.1 695.1 M773.9 722.1 L782.7 731.6 M807.2 757.7 L816.2 768.1 M840.1 786.2 L850 793.5 M876.7 813.1 L885.6 819.4 M912.2 835.9 L920.2 841.9 M1170 932.9 L1180.9 940.4" fill="none" stroke="#000000" stroke-width="7.7" stroke-linecap="round" stroke-linejoin="round"/>
</g>
<line clip-path="url(#plot)" x1="590.2" y1="31.1" x2="590.2" y2="1195" stroke="#000" stroke-width="5.8" stroke-linecap="round" stroke-dasharray="3.6 28.63"/>
<rect x="264" y="25" width="1572" height="1170" fill="none" stroke="#000" stroke-width="4"/>
<path d="M333 1195 V1172.4 M333 25 V47.6 M469.6 1195 V1184.5 M469.6 25 V35.5 M606.2 1195 V1172.4 M606.2 25 V47.6 M742.8 1195 V1184.5 M742.8 25 V35.5 M879.4 1195 V1172.4 M879.4 25 V47.6 M1016 1195 V1184.5 M1016 25 V35.5 M1152.6 1195 V1172.4 M1152.6 25 V47.6 M1289.2 1195 V1184.5 M1289.2 25 V35.5 M1425.8 1195 V1172.4 M1425.8 25 V47.6 M1562.4 1195 V1184.5 M1562.4 25 V35.5 M1699 1195 V1172.4 M1699 25 V47.6 M264 1195 H286.6 M1836 1195 H1813.4 M264 1105 H274.5 M1836 1105 H1825.5 M264 1015 H286.6 M1836 1015 H1813.4 M264 925 H274.5 M1836 925 H1825.5 M264 835 H286.6 M1836 835 H1813.4 M264 745 H274.5 M1836 745 H1825.5 M264 655 H286.6 M1836 655 H1813.4 M264 565 H274.5 M1836 565 H1825.5 M264 475 H286.6 M1836 475 H1813.4 M264 385 H274.5 M1836 385 H1825.5 M264 295 H286.6 M1836 295 H1813.4 M264 205 H274.5 M1836 205 H1825.5 M264 115 H286.6 M1836 115 H1813.4" stroke="#000" stroke-width="4" stroke-linecap="round" fill="none"/>
<rect x="622.4" y="23.6" width="429.2" height="356.6" fill="#fff" stroke="#000" stroke-width="1.4"/>
<line x1="649" y1="62.6" x2="708.8" y2="62.6" stroke="#ff0000" stroke-width="9.6" stroke-linecap="round"/>
<line x1="649" y1="120.3" x2="708.8" y2="120.3" stroke="#000000" stroke-width="9.6" stroke-linecap="round"/>
<line x1="649" y1="178.6" x2="680.8" y2="178.6" stroke="#ff0000" stroke-width="9.6" stroke-linecap="round"/>
<line x1="649" y1="236.4" x2="680.8" y2="236.4" stroke="#000000" stroke-width="9.6" stroke-linecap="round"/>
<line x1="648.7" y1="294.2" x2="661.3" y2="294.2" stroke="#ff0000" stroke-width="9" stroke-linecap="round"/>
<line x1="684.6" y1="294.2" x2="697.7" y2="294.2" stroke="#ff0000" stroke-width="9" stroke-linecap="round"/>
<line x1="648.7" y1="351.7" x2="661.3" y2="351.7" stroke="#000000" stroke-width="9" stroke-linecap="round"/>
<line x1="684.6" y1="351.7" x2="697.7" y2="351.7" stroke="#000000" stroke-width="9" stroke-linecap="round"/>
<g font-size="37" fill="#000" stroke="#000" stroke-width="0.6" letter-spacing="0.3">
<text x="716.3" y="71.5">LT-VO<tspan dy="11.5">2</tspan></text>
<text x="719.9" y="130.2">HT-VO<tspan dy="11.5">2</tspan></text>
<text x="720.1" y="187">LT-V<tspan dy="11.5">0.99</tspan><tspan dy="-11.5">W</tspan><tspan dy="11.5">0.01</tspan><tspan dy="-11.5">O</tspan><tspan dy="11.5">2</tspan></text>
<text x="719.9" y="245.8">HT-V<tspan dy="11.5">0.99</tspan><tspan dy="-11.5">W</tspan><tspan dy="11.5">0.01</tspan><tspan dy="-11.5">O</tspan><tspan dy="11.5">2</tspan></text>
<text x="720.1" y="302.9">LT-V<tspan dy="11.5">0.98</tspan><tspan dy="-11.5">W</tspan><tspan dy="11.5">0.02</tspan><tspan dy="-11.5">O</tspan><tspan dy="11.5">2</tspan></text>
<text x="719.9" y="359.9">HT-V<tspan dy="11.5">0.98</tspan><tspan dy="-11.5">W</tspan><tspan dy="11.5">0.02</tspan><tspan dy="-11.5">O</tspan><tspan dy="11.5">2</tspan></text>
</g>
<line x1="1700.7" y1="449" x2="1700.7" y2="320" stroke="#000000" stroke-width="6" stroke-linecap="round"/>
<polygon points="1701.2,298.2 1693.2,327.5 1709.2,327.5" fill="#000000" stroke="#000000" stroke-width="3" stroke-linejoin="round"/>
<line x1="1699.5" y1="586.5" x2="1699.5" y2="830" stroke="#000000" stroke-width="6" stroke-linecap="round"/>
<polygon points="1700,851.8 1692,823.1 1708,823.1" fill="#000000" stroke="#000000" stroke-width="3" stroke-linejoin="round"/>
<line x1="1697.6" y1="151.4" x2="1735.5" y2="151.4" stroke="#ff0000" stroke-width="6" stroke-linecap="round"/>
<polygon points="1735.9,144.8 1728.5,175 1743.4,175" fill="#ff0000" stroke="#ff0000" stroke-width="3" stroke-linejoin="round"/>
<line x1="1735.9" y1="202.9" x2="1735.9" y2="224.9" stroke="#ff0000" stroke-width="6" stroke-linecap="round"/>
<line x1="1735.9" y1="257.5" x2="1735.9" y2="279.5" stroke="#ff0000" stroke-width="6" stroke-linecap="round"/>
<line x1="1735.9" y1="312" x2="1735.9" y2="334" stroke="#ff0000" stroke-width="6" stroke-linecap="round"/>
<line x1="1735.9" y1="365.4" x2="1735.9" y2="387.4" stroke="#ff0000" stroke-width="6" stroke-linecap="round"/>
<line x1="1735.9" y1="418.7" x2="1735.9" y2="440.7" stroke="#ff0000" stroke-width="6" stroke-linecap="round"/>
<line x1="1735.9" y1="473.3" x2="1735.9" y2="495.3" stroke="#ff0000" stroke-width="6" stroke-linecap="round"/>
<line x1="1733" y1="626" x2="1733" y2="647.5" stroke="#ff0000" stroke-width="6" stroke-linecap="round"/>
<line x1="1733" y1="681.3" x2="1733" y2="702.8" stroke="#ff0000" stroke-width="6" stroke-linecap="round"/>
<line x1="1733" y1="735" x2="1733" y2="756.5" stroke="#ff0000" stroke-width="6" stroke-linecap="round"/>
<line x1="1733" y1="788.7" x2="1733" y2="810.2" stroke="#ff0000" stroke-width="6" stroke-linecap="round"/>
<line x1="1733" y1="842.5" x2="1733" y2="864" stroke="#ff0000" stroke-width="6" stroke-linecap="round"/>
<line x1="1733" y1="896" x2="1733" y2="920" stroke="#ff0000" stroke-width="6" stroke-linecap="round"/>
<polygon points="1733,945.9 1725.4,915.8 1740.6,915.8" fill="#ff0000" stroke="#ff0000" stroke-width="3" stroke-linejoin="round"/>
<line x1="1670.5" y1="948" x2="1733" y2="948" stroke="#ff0000" stroke-width="6" stroke-linecap="round"/>
<line x1="1698.9" y1="252.4" x2="1805" y2="252.4" stroke="#0000ff" stroke-width="6" stroke-linecap="round"/>
<polygon points="1805.1,247.6 1797.5,277.5 1812.7,277.5" fill="#0000ff" stroke="#0000ff" stroke-width="3" stroke-linejoin="round"/>
<line x1="1804.8" y1="289.5" x2="1804.8" y2="297.1" stroke="#0000ff" stroke-width="6" stroke-linecap="round"/>
<line x1="1804.8" y1="313.8" x2="1804.8" y2="321.4" stroke="#0000ff" stroke-width="6" stroke-linecap="round"/>
<line x1="1804.8" y1="338.1" x2="1804.8" y2="345.7" stroke="#0000ff" stroke-width="6" stroke-linecap="round"/>
<line x1="1804.8" y1="362.4" x2="1804.8" y2="370" stroke="#0000ff" stroke-width="6" stroke-linecap="round"/>
<line x1="1804.8" y1="386.7" x2="1804.8" y2="394.3" stroke="#0000ff" stroke-width="6" stroke-linecap="round"/>
<line x1="1804.8" y1="411" x2="1804.8" y2="418.6" stroke="#0000ff" stroke-width="6" stroke-linecap="round"/>
<line x1="1804.8" y1="435.3" x2="1804.8" y2="442.9" stroke="#0000ff" stroke-width="6" stroke-linecap="round"/>
<line x1="1804.8" y1="459.6" x2="1804.8" y2="467.2" stroke="#0000ff" stroke-width="6" stroke-linecap="round"/>
<line x1="1804.8" y1="483.9" x2="1804.8" y2="491.5" stroke="#0000ff" stroke-width="6" stroke-linecap="round"/>
<line x1="1804.8" y1="508.2" x2="1804.8" y2="515.8" stroke="#0000ff" stroke-width="6" stroke-linecap="round"/>
<line x1="1804.8" y1="532.5" x2="1804.8" y2="540.1" stroke="#0000ff" stroke-width="6" stroke-linecap="round"/>
<line x1="1805" y1="654.8" x2="1805" y2="662.1" stroke="#0000ff" stroke-width="6" stroke-linecap="round"/>
<line x1="1805" y1="679.4" x2="1805" y2="686.7" stroke="#0000ff" stroke-width="6" stroke-linecap="round"/>
<line x1="1805" y1="704.1" x2="1805" y2="711.4" stroke="#0000ff" stroke-width="6" stroke-linecap="round"/>
<line x1="1805" y1="728.7" x2="1805" y2="736" stroke="#0000ff" stroke-width="6" stroke-linecap="round"/>
<line x1="1805" y1="753.4" x2="1805" y2="760.7" stroke="#0000ff" stroke-width="6" stroke-linecap="round"/>
<line x1="1805" y1="778" x2="1805" y2="785.3" stroke="#0000ff" stroke-width="6" stroke-linecap="round"/>
<line x1="1805" y1="802.7" x2="1805" y2="810" stroke="#0000ff" stroke-width="6" stroke-linecap="round"/>
<line x1="1805" y1="827.3" x2="1805" y2="834.6" stroke="#0000ff" stroke-width="6" stroke-linecap="round"/>
<line x1="1805" y1="852" x2="1805" y2="859.3" stroke="#0000ff" stroke-width="6" stroke-linecap="round"/>
<line x1="1805" y1="876.6" x2="1805" y2="883.9" stroke="#0000ff" stroke-width="6" stroke-linecap="round"/>
<line x1="1805" y1="901.3" x2="1805" y2="908.6" stroke="#0000ff" stroke-width="6" stroke-linecap="round"/>
<line x1="1805" y1="925.9" x2="1805" y2="933.2" stroke="#0000ff" stroke-width="6" stroke-linecap="round"/>
<line x1="1805" y1="950.6" x2="1805" y2="957.9" stroke="#0000ff" stroke-width="6" stroke-linecap="round"/>
<polygon points="1805,1003.4 1797.4,972.5 1812.6,972.5" fill="#0000ff" stroke="#0000ff" stroke-width="3" stroke-linejoin="round"/>
<line x1="1686.5" y1="1007" x2="1806.5" y2="1007" stroke="#0000ff" stroke-width="6" stroke-linecap="round"/>
<g class="b" font-size="50">
<text transform="translate(1635.2 531.6) scale(0.96 1.0)" fill="#000" stroke="#000">31%</text>
<text transform="translate(1694.6 584.7) scale(0.96 1.0)" fill="#f00" stroke="#f00">43%</text>
<text transform="translate(1741.2 640.2) scale(0.96 1.0)" fill="#00f" stroke="#00f">42%</text>
</g>
<g class="b" font-size="60" fill="#000" stroke="#000">
<text x="464.5" y="1132.7">VIS</text>
<text x="606.3" y="1131">NIR</text>
</g>
<g class="b" font-size="71" fill="#000" stroke="#000">
<text transform="translate(238.4 1215.6) scale(0.99 1.025)" text-anchor="end">0</text>
<text transform="translate(238.4 1035.6) scale(0.99 1.025)" text-anchor="end">10</text>
<text transform="translate(238.4 855.6) scale(0.99 1.025)" text-anchor="end">20</text>
<text transform="translate(238.4 675.6) scale(0.99 1.025)" text-anchor="end">30</text>
<text transform="translate(238.4 495.6) scale(0.99 1.025)" text-anchor="end">40</text>
<text transform="translate(238.4 315.6) scale(0.99 1.025)" text-anchor="end">50</text>
<text transform="translate(238.4 135.6) scale(0.99 1.025)" text-anchor="end">60</text>
<text transform="translate(331 1277.2) scale(0.975 1.025)" text-anchor="middle">400</text>
<text transform="translate(604.2 1277.2) scale(0.975 1.025)" text-anchor="middle">800</text>
<text transform="translate(878.7 1277.2) scale(0.975 1.025)" text-anchor="middle">1200</text>
<text transform="translate(1151.9 1277.2) scale(0.975 1.025)" text-anchor="middle">1600</text>
<text transform="translate(1425.1 1277.2) scale(0.975 1.025)" text-anchor="middle">2000</text>
<text transform="translate(1698.3 1277.2) scale(0.975 1.025)" text-anchor="middle">2400</text>
</g>
<text class="b" font-size="71" transform="translate(1049.3 1392.8) scale(0.992 1.0)" text-anchor="middle" fill="#000" stroke="#000">Wavelength(nm)</text>
<text class="b" font-size="71" transform="translate(72.9 626.3) rotate(-90) scale(0.989 1.0)" text-anchor="middle" fill="#000" stroke="#000">Transmission (%)</text>
</svg></body></html>
